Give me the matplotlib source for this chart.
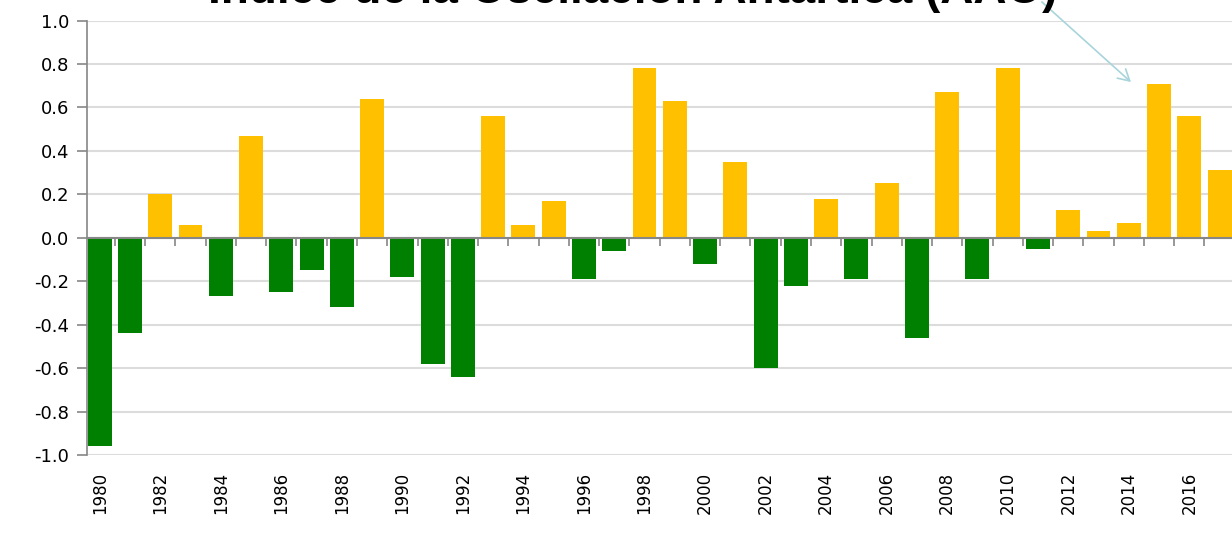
import numpy as np
import matplotlib
matplotlib.use("Agg")
import matplotlib.pyplot as plt
from matplotlib.ticker import FixedLocator, FuncFormatter

# AAO annual index, 1980-2017
years = list(range(1980, 2018))
aao = [-0.96, -0.44, 0.20, 0.06, -0.27, 0.47, -0.25, -0.15, -0.32, 0.64,
       -0.18, -0.58, -0.64, 0.56, 0.06, 0.17, -0.19, -0.06, 0.78, 0.63,
       -0.12, 0.35, -0.60, -0.22, 0.18, -0.19, 0.25, -0.46, 0.67, -0.19,
       0.78, -0.05, 0.13, 0.03, 0.07, 0.71, 0.56, 0.31]
title = "Índice de la Oscilación Antártica (AAO)"

POS_COLOR = "#FFC000"
NEG_COLOR = "#008000"
GRID = "#dcdcdc"
AXIS = "#868686"

fig = plt.figure(figsize=(12.32, 5.5), dpi=100)
ax = fig.add_axes([87 / 1232, 95 / 550, 1 - 87 / 1232, 434.5 / 550])

x = np.arange(len(years))
vals = np.array(aao)
colors = [POS_COLOR if v >= 0 else NEG_COLOR for v in vals]
ax.bar(x, vals, width=0.79, color=colors, zorder=3)

ax.set_xlim(-0.42, 37.41)
ax.set_ylim(-1.0, 1.0)

# y axis
ax.yaxis.set_major_locator(FixedLocator(np.round(np.arange(-1.0, 1.01, 0.2), 1)))
ax.yaxis.set_major_formatter(FuncFormatter(lambda v, p: "%.1f" % (round(v, 1) + 0.0)))
ax.grid(axis="y", color=GRID, linewidth=1.5, zorder=0)
ax.tick_params(axis="y", length=7, width=1.2, color=AXIS, labelsize=13, pad=6)
ax.spines["left"].set_color(AXIS)
ax.spines["left"].set_linewidth(1.2)
for s in ["top", "right", "bottom"]:
    ax.spines[s].set_visible(False)

# x labels at the bottom, every other year
ax.set_xticks(x[::2])
ax.set_xticklabels([str(y) for y in years[::2]], rotation=90, fontsize=12)
ax.tick_params(axis="x", length=0, pad=12)

# category axis crossing at zero
ax.axhline(0, color=AXIS, linewidth=1.5, zorder=4)
sec = ax.secondary_xaxis(0.5)
sec.set_zorder(5)
sec.set_xticks(np.arange(0.5, len(years) - 0.5, 1.0))
sec.tick_params(axis="x", direction="in", length=6, width=1.2, color=AXIS,
                labelbottom=False, labeltop=False)
for s in sec.spines.values():
    s.set_visible(False)

# title, partly cut off at the top
fig.text(633 / 1232, 1 - 3 / 550, title, ha="center", va="baseline",
         fontsize=33, fontweight="bold", family="Liberation Sans")

# arrow pointing at 2015
ax.annotate("", xy=(34.14, 0.708), xytext=(31.06, 1.094),
            xycoords="data", textcoords="data", annotation_clip=False,
            arrowprops=dict(arrowstyle="->,head_length=0.8,head_width=0.45",
                            color="#a8d4db", linewidth=1.2))

fig.savefig("out.png", dpi=100)
